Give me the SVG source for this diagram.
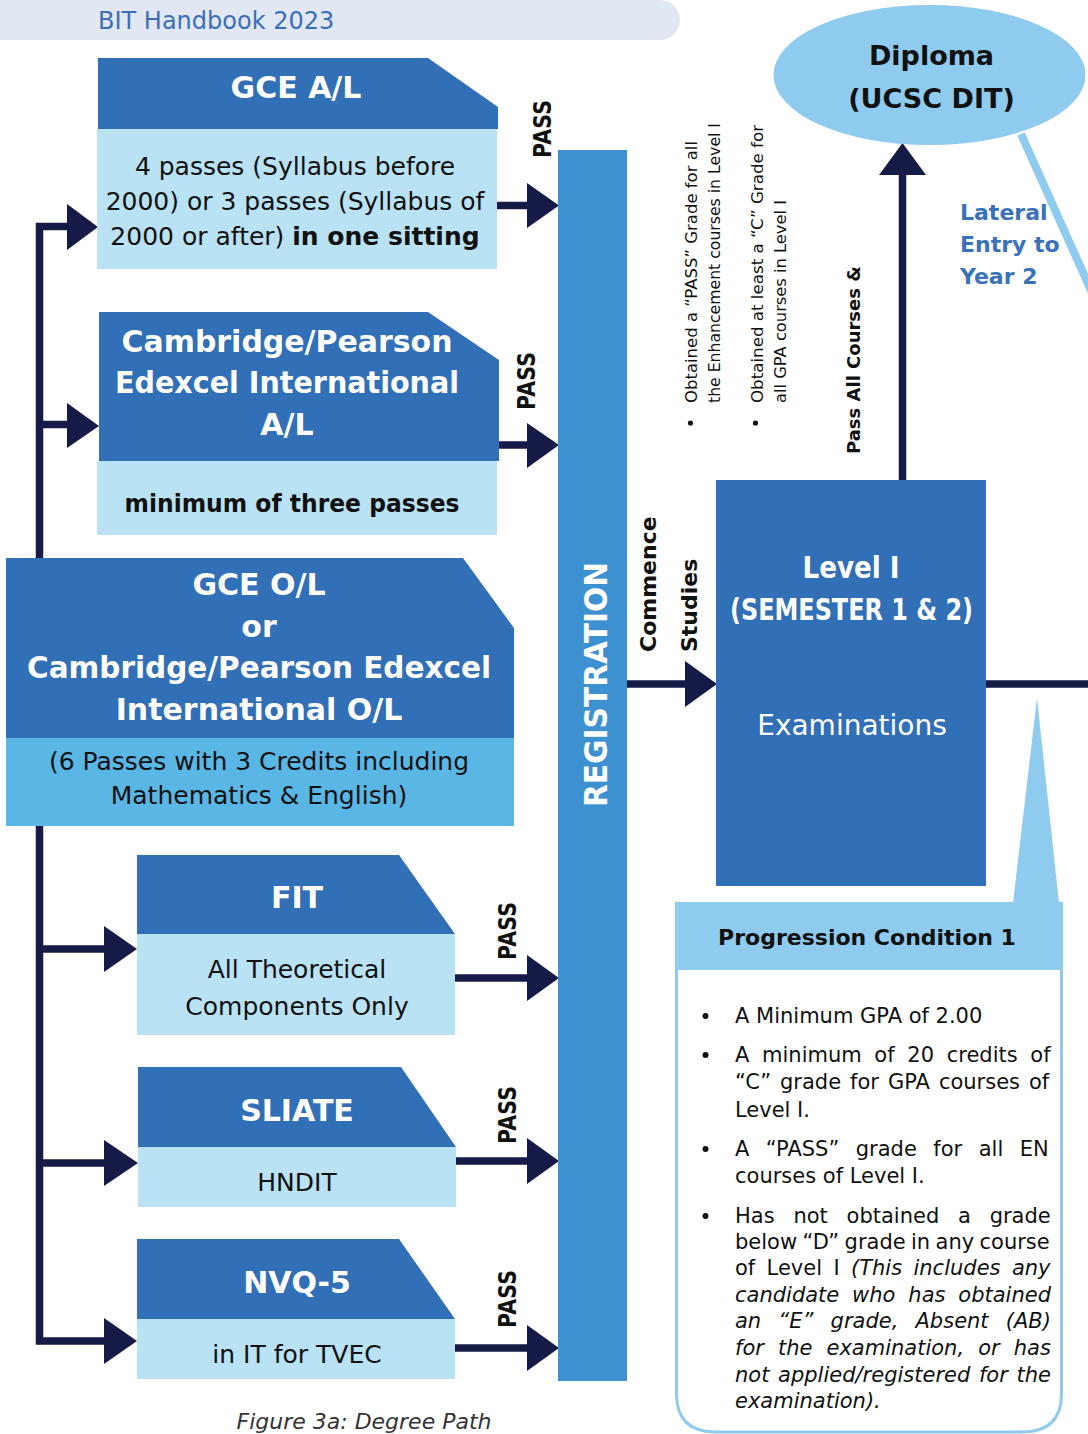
<svg xmlns="http://www.w3.org/2000/svg" width="1088" height="1434" viewBox="0 0 1088 1434">
<style>
text{font-family:"DejaVu Sans","Liberation Sans",sans-serif}
.hdr{fill:#316fb7}
.bdy{fill:#b9e2f5}
.ttl{fill:#fff;font-weight:bold;font-size:30px;text-anchor:middle}
.txt{fill:#111;font-size:25px;text-anchor:middle}
.nav{fill:#161a47}
.navl{stroke:#161a47;stroke-width:7.5;fill:none}
.pass{font-weight:bold;font-size:25px;fill:#111}
.rot{font-size:16.5px;fill:#111}
.lst{font-size:21px;fill:#111}
.it{font-style:italic}
</style>

<g id="header-bar">
<path d="M0,0 H660 A20,20 0 0 1 680,20 A20,20 0 0 1 660,40 H0 Z" fill="#e1e8f3"/>
<text x="98" y="29" font-size="24" fill="#3a6fb8">BIT Handbook 2023</text>
</g>

<g id="connectors">
<path class="navl" d="M106,1341 H39.5 V226.5 H70"/>
<path class="navl" d="M39.5,424.5 H70"/>
<polygon class="nav" points="67,204 98,227 67,250"/>
<polygon class="nav" points="67,403 99,426 67,448"/>
<path class="navl" d="M39.5,949 H106"/>
<polygon class="nav" points="104,926 137,949 104,972"/>
<path class="navl" d="M39.5,1163 H106"/>
<polygon class="nav" points="104,1140 138,1163 104,1186"/>
<polygon class="nav" points="104,1318 137,1341 104,1364"/>

<path class="navl" d="M497,205.5 H529"/>
<polygon class="nav" points="527,183 559,205.5 527,228"/>
<path class="navl" d="M499,445 H529"/>
<polygon class="nav" points="527,423 559,445 527,468"/>
<path class="navl" d="M455,978 H529"/>
<polygon class="nav" points="527,955 559,978 527,1001"/>
<path class="navl" d="M456,1161 H529"/>
<polygon class="nav" points="527,1138 559,1161 527,1184"/>
<path class="navl" d="M455,1348 H529"/>
<polygon class="nav" points="527,1325 559,1348 527,1371"/>

<path class="navl" d="M627,684 H688"/>
<polygon class="nav" points="685,661 717,684 685,707"/>
<path class="navl" d="M902.5,480 V172" stroke-width="8"/>
<polygon class="nav" points="879,175 902.5,143 926,175"/>
<path class="navl" d="M986,684 H1088"/>
<path d="M1021,134 L1098,306" stroke="#8ecbee" stroke-width="8" fill="none"/>

<text class="pass" transform="translate(551,158) rotate(-90)" textLength="58" lengthAdjust="spacingAndGlyphs">PASS</text>
<text class="pass" transform="translate(535,410) rotate(-90)" textLength="58" lengthAdjust="spacingAndGlyphs">PASS</text>
<text class="pass" transform="translate(516,960) rotate(-90)" textLength="58" lengthAdjust="spacingAndGlyphs">PASS</text>
<text class="pass" transform="translate(516,1144) rotate(-90)" textLength="58" lengthAdjust="spacingAndGlyphs">PASS</text>
<text class="pass" transform="translate(516,1328) rotate(-90)" textLength="58" lengthAdjust="spacingAndGlyphs">PASS</text>
<text font-weight="bold" font-size="22" fill="#111" transform="translate(656,652) rotate(-90)">Commence</text>
<text font-weight="bold" font-size="22" fill="#111" transform="translate(697,652) rotate(-90)">Studies</text>
<text font-weight="bold" font-size="18" fill="#111" transform="translate(860,454) rotate(-90)">Pass All Courses &amp;</text>
<circle cx="690.5" cy="423" r="2.6" fill="#111"/>
<text class="rot" transform="translate(697,403) rotate(-90)" textLength="262" lengthAdjust="spacingAndGlyphs">Obtained a “PASS” Grade for all</text>
<text class="rot" transform="translate(720,403) rotate(-90)" textLength="280" lengthAdjust="spacingAndGlyphs">the Enhancement courses in Level I</text>
<circle cx="755.5" cy="423" r="2.6" fill="#111"/>
<text class="rot" transform="translate(763,403) rotate(-90)" textLength="278" lengthAdjust="spacingAndGlyphs">Obtained at least a “C” Grade for</text>
<text class="rot" transform="translate(786,403) rotate(-90)" textLength="203" lengthAdjust="spacingAndGlyphs">all GPA courses in Level I</text>
</g>

<g id="gce-al">
<polygon class="hdr" points="98,58 428,58 498,107 498,129 98,129"/>
<rect class="bdy" x="97" y="129" width="400" height="140"/>
<text class="ttl" x="296" y="98" font-size="31">GCE A/L</text>
<text class="txt" x="295" y="175">4 passes (Syllabus before</text>
<text class="txt" x="295" y="210">2000) or 3 passes (Syllabus of</text>
<text class="txt" x="295" y="245">2000 or after) <tspan font-weight="bold">in one sitting</tspan></text>
</g>

<g id="cambridge-al">
<polygon class="hdr" points="99,312 428,312 499,360 499,461 99,461"/>
<rect class="bdy" x="97" y="461" width="400" height="74"/>
<text class="ttl" x="287" y="352" textLength="331" lengthAdjust="spacingAndGlyphs">Cambridge/Pearson</text>
<text class="ttl" x="287" y="393" textLength="344" lengthAdjust="spacingAndGlyphs">Edexcel International</text>
<text class="ttl" x="287" y="435">A/L</text>
<text class="txt" x="292" y="512" font-weight="bold" font-size="24" textLength="335" lengthAdjust="spacingAndGlyphs">minimum of three passes</text>
</g>

<g id="gce-ol">
<polygon class="hdr" points="6,558 463,558 514,628 514,738 6,738"/>
<rect x="6" y="738" width="508" height="88" fill="#5ab6e5"/>
<text class="ttl" x="259" y="595">GCE O/L</text>
<text class="ttl" x="259" y="637">or</text>
<text class="ttl" x="259" y="678" textLength="464" lengthAdjust="spacingAndGlyphs">Cambridge/Pearson Edexcel</text>
<text class="ttl" x="259" y="720">International O/L</text>
<text class="txt" x="259" y="770">(6 Passes with 3 Credits including</text>
<text class="txt" x="259" y="804">Mathematics &amp; English)</text>
</g>

<g id="fit">
<polygon class="hdr" points="137,855 399,855 455,934 137,934"/>
<rect class="bdy" x="137" y="934" width="318" height="101"/>
<text class="ttl" x="297" y="908">FIT</text>
<text class="txt" x="297" y="978">All Theoretical</text>
<text class="txt" x="297" y="1015">Components Only</text>
</g>

<g id="sliate">
<polygon class="hdr" points="138,1067 401,1067 456,1147 138,1147"/>
<rect class="bdy" x="138" y="1147" width="318" height="60"/>
<text class="ttl" x="297" y="1121">SLIATE</text>
<text class="txt" x="297" y="1191">HNDIT</text>
</g>

<g id="nvq5">
<polygon class="hdr" points="137,1239 399,1239 455,1319 137,1319"/>
<rect class="bdy" x="137" y="1319" width="318" height="60"/>
<text class="ttl" x="297" y="1293">NVQ-5</text>
<text class="txt" x="297" y="1363">in IT for TVEC</text>
</g>

<g id="registration">
<rect x="558" y="150" width="69" height="1231" fill="#3d91d1"/>
<text transform="translate(607,807) rotate(-90)" font-weight="bold" font-size="32" fill="#fff" textLength="245" lengthAdjust="spacingAndGlyphs">REGISTRATION</text>
</g>

<g id="level1">
<rect class="hdr" x="716" y="480" width="270" height="406"/>
<text class="ttl" x="851" y="578" font-size="26" textLength="97" lengthAdjust="spacingAndGlyphs">Level I</text>
<text class="ttl" x="851.5" y="620" font-size="25" textLength="243" lengthAdjust="spacingAndGlyphs">(SEMESTER 1 &amp; 2)</text>
<text x="852" y="735" font-size="28" fill="#fff" text-anchor="middle">Examinations</text>
</g>

<g id="diploma">
<ellipse cx="929.5" cy="75" rx="156" ry="70" fill="#8ecbee"/>
<text x="931.5" y="65" font-weight="bold" font-size="27" fill="#111" text-anchor="middle">Diploma</text>
<text x="931.5" y="108" font-weight="bold" font-size="27" fill="#111" text-anchor="middle">(UCSC DIT)</text>
</g>

<g id="lateral-entry">
<text x="960" y="220" font-weight="bold" font-size="22" fill="#3a72b9">Lateral</text>
<text x="960" y="252" font-weight="bold" font-size="22" fill="#3a72b9">Entry to</text>
<text x="960" y="284" font-weight="bold" font-size="22" fill="#3a72b9">Year 2</text>
</g>

<g id="progression-condition-1">
<polygon points="1037,698 1013,903 1059,903" fill="#8ecbee"/>
<path d="M676.5,968 V1394 Q676.5,1432 716,1432 H1022 Q1061.5,1432 1061.5,1394 V968" fill="#fff" stroke="#8ecbee" stroke-width="3"/>
<rect x="675" y="902" width="388" height="68" fill="#8ecbee"/>
<text x="867" y="945" font-weight="bold" font-size="22" fill="#111" text-anchor="middle">Progression Condition 1</text>
<circle cx="705.5" cy="1016" r="3" fill="#111"/>
<circle cx="705.5" cy="1055" r="3" fill="#111"/>
<circle cx="705.5" cy="1149" r="3" fill="#111"/>
<circle cx="705.5" cy="1216" r="3" fill="#111"/>
<text class="lst" x="735" y="1023">A Minimum GPA of 2.00</text>
<text class="lst" x="735" y="1062" word-spacing="6">A minimum of 20 credits of</text>
<text class="lst" x="735" y="1089" word-spacing="2.3">“C” grade for GPA courses of</text>
<text class="lst" x="735" y="1117">Level I.</text>
<text class="lst" x="735" y="1156" word-spacing="9.8">A “PASS” grade for all EN</text>
<text class="lst" x="735" y="1183">courses of Level I.</text>
<text class="lst" x="735" y="1223" word-spacing="12.1">Has not obtained a grade</text>
<text class="lst" x="735" y="1249" word-spacing="-1.3">below “D” grade in any course</text>
<text class="lst" x="735" y="1275" word-spacing="4.7">of Level I <tspan class="it">(This includes any</tspan></text>
<text class="lst it" x="735" y="1302" word-spacing="6.2">candidate who has obtained</text>
<text class="lst it" x="735" y="1328" word-spacing="10.5">an “E” grade, Absent (AB)</text>
<text class="lst it" x="735" y="1355" word-spacing="7.4">for the examination, or has</text>
<text class="lst it" x="735" y="1382" word-spacing="2">not applied/registered for the</text>
<text class="lst it" x="735" y="1408">examination).</text>
</g>

<g id="caption">
<text x="364" y="1429" font-size="22" font-style="italic" fill="#333" text-anchor="middle">Figure 3a: Degree Path</text>
</g>
</svg>
